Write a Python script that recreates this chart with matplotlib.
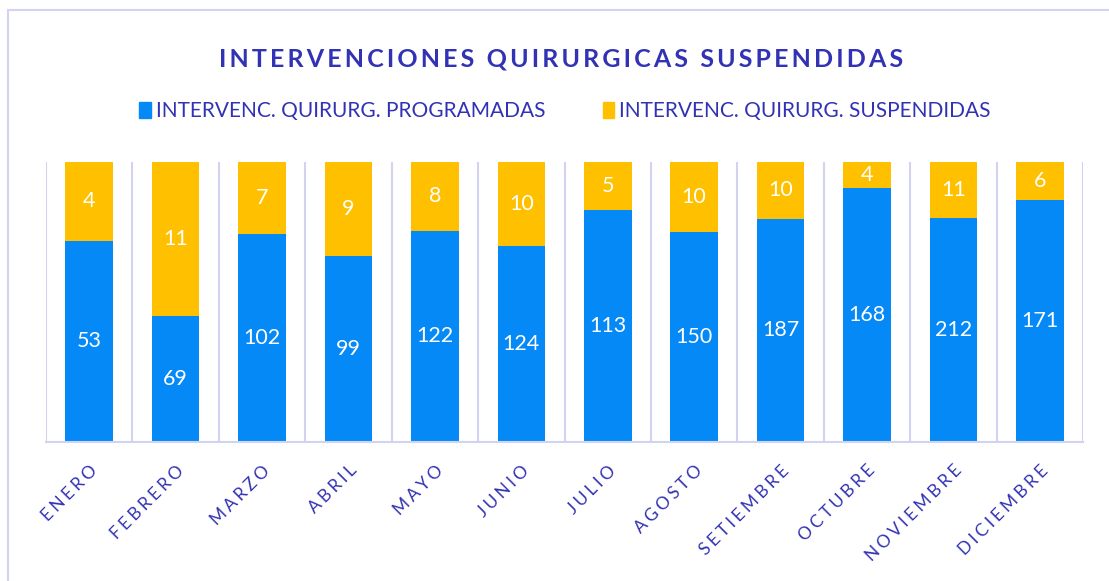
import numpy as np
import matplotlib
matplotlib.use('Agg')
import matplotlib.pyplot as plt
from matplotlib.patches import Rectangle, Patch

# datos
meses = ['ENERO', 'FEBRERO', 'MARZO', 'ABRIL', 'MAYO', 'JUNIO', 'JULIO',
         'AGOSTO', 'SETIEMBRE', 'OCTUBRE', 'NOVIEMBRE', 'DICIEMBRE']
programadas = [53, 69, 102, 99, 122, 124, 113, 150, 187, 168, 212, 171]
suspendidas = [4, 11, 7, 9, 8, 10, 5, 10, 10, 4, 11, 6]
# proporcion (%) de cada barra
pct_programadas = [71.8, 45.0, 74.2, 66.5, 75.4, 70.1, 82.9, 75.0, 79.6, 90.8, 80.1, 86.4]
pct_suspendidas = [100 - p for p in pct_programadas]

azul = '#0589F7'
amarillo = '#FFC000'
texto = '#3232B4'
linea = '#D2D2F2'

fam = ['Lato', 'DejaVu Sans']
plt.rcParams['font.family'] = fam


def espaciar(s, sep='\u2009'):
    return sep.join(s)


fig = plt.figure(figsize=(11.09, 5.81), dpi=100)
ax = fig.add_axes([0.0415, 0.240, 0.9351, 0.4812])

x = np.arange(len(meses))
ax.bar(x, pct_programadas, width=0.55, color=azul, zorder=2)
ax.bar(x, pct_suspendidas, width=0.55, bottom=pct_programadas, color=amarillo, zorder=2)

for i in range(len(meses)):
    ax.text(x[i], pct_programadas[i] / 2, str(programadas[i]), ha='center', va='center',
            color='white', fontsize=15.5)
    ax.text(x[i], pct_programadas[i] + pct_suspendidas[i] / 2, str(suspendidas[i]),
            ha='center', va='center', color='white', fontsize=15.5)

ax.set_xlim(-0.5, len(meses) - 0.5)
ax.set_ylim(0, 100)
ax.set_yticks([])
ax.set_xticks(x)
ax.set_xticklabels([espaciar(m, '\u2009\u200a') for m in meses], rotation=45, ha='right',
                   rotation_mode='anchor', color=texto, fontsize=12.5)
ax.tick_params(axis='x', length=0, pad=15)
ax.set_xticks(np.arange(-0.5, len(meses)), minor=True)
ax.tick_params(axis='x', which='minor', length=0)
ax.grid(True, which='minor', axis='x', color=linea, linewidth=1.5, zorder=0)
for s in ['top', 'right', 'left']:
    ax.spines[s].set_visible(False)
ax.spines['bottom'].set_color(linea)
ax.spines['bottom'].set_linewidth(1.5)

fig.text(0.506, 0.898, espaciar('INTERVENCIONES QUIRURGICAS SUSPENDIDAS'), ha='center', va='center',
         color=texto, fontsize=18, fontweight='bold')

handles = [Patch(color=azul, label='INTERVENC. QUIRURG. PROGRAMADAS'),
           Patch(color=amarillo, label='INTERVENC. QUIRURG. SUSPENDIDAS')]
leg = fig.legend(handles=handles, loc='center', bbox_to_anchor=(0.5095, 0.809), ncol=2,
                 frameon=False, fontsize=15, handlelength=0.55, handleheight=0.8,
                 handletextpad=0.25, columnspacing=2.75)
for t in leg.get_texts():
    t.set_color(texto)

# borde del grafico
fig.patches.append(Rectangle((8 / 1109, -0.1), 1.2, (581 - 10) / 581 + 0.1,
                             transform=fig.transFigure, fill=False,
                             edgecolor=linea, linewidth=1.5))

fig.savefig('out.png', dpi=100)
